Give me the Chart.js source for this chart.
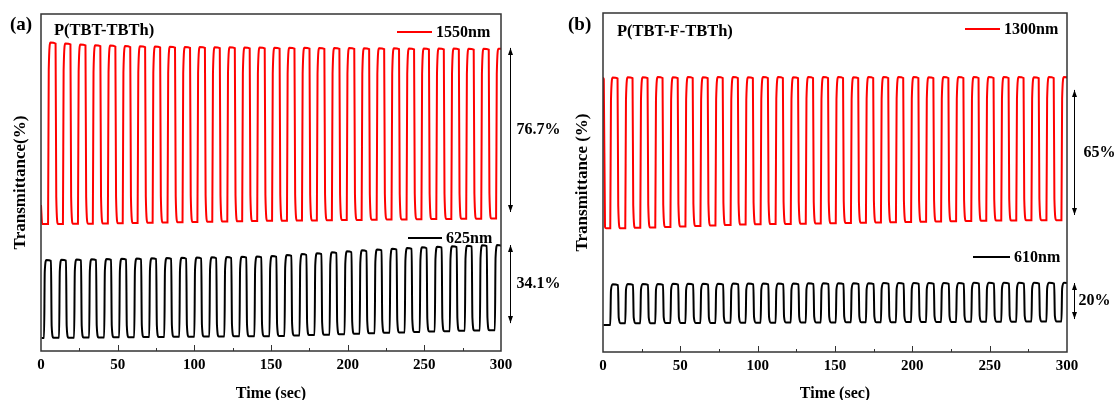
<!DOCTYPE html>
<html>
<head>
<meta charset="utf-8">
<script src="https://cdn.jsdelivr.net/npm/chart.js@4"></script>
<style>
  body { margin: 0; background: #fff; }
  #wrap { position: relative; width: 1115px; height: 400px; overflow: hidden; }
  canvas { position: absolute; top: 0; }
</style>
</head>
<body>
<div id="wrap">
  <canvas id="chartA" width="565" height="400" style="left:0"></canvas>
  <canvas id="chartB" width="555" height="400" style="left:560px"></canvas>
</div>
<script>
// ---- data (time in s, transmittance on an arbitrary %-scale) ----
const xTicks = [0, 50, 100, 150, 200, 250, 300];

// panel (a) P(TBT-TBTh), 1550 nm (red)
const redA_lead = [[0, 62.8], [0.8, 54.6]];
const redA_rise = [4.6, 14.3, 24.1, 33.8, 43.6, 53.3, 63.0, 72.8, 82.5, 92.3, 102.0, 111.7, 121.5, 131.2, 141.0, 150.7,
  160.4, 170.2, 179.9, 189.7, 199.4, 209.1, 218.9, 228.6, 238.4, 248.1, 257.8, 267.6, 277.3, 287.1, 296.8];
const redA_top = [132.7, 132.3, 131.9, 131.6, 131.4, 131.2, 131.1, 131.0, 130.9, 130.8, 130.8, 130.7, 130.7, 130.6, 130.6, 130.5,
  130.5, 130.5, 130.4, 130.4, 130.4, 130.3, 130.3, 130.3, 130.2, 130.2, 130.2, 130.2, 130.1, 130.1, 130.1];
const redA_low = [54.6, 54.7, 54.8, 54.9, 55.0, 55.1, 55.2, 55.3, 55.4, 55.5, 55.6, 55.7, 55.8, 55.9, 56.0, 56.0,
  56.1, 56.2, 56.3, 56.4, 56.4, 56.5, 56.6, 56.6, 56.7, 56.8, 56.8, 56.9, 56.9, 57.0, 57.0];

// panel (a), 625 nm (black)
const blackA_lead = [[0.4, 5.6]];
const blackA_rise = [2.0, 11.8, 21.6, 31.4, 41.2, 51.0, 60.8, 70.6, 80.4, 90.2, 100.0, 109.8, 119.6, 129.4, 139.2, 149.0,
  158.8, 168.6, 178.4, 188.2, 198.0, 207.8, 217.6, 227.4, 237.2, 247.0, 256.8, 266.6, 276.4, 286.2, 296.0];
const blackA_top = [39.2, 39.3, 39.4, 39.5, 39.6, 39.7, 39.8, 39.9, 40.0, 40.1, 40.2, 40.3, 40.4, 40.6, 40.7, 40.9,
  41.3, 41.7, 42.1, 42.5, 42.9, 43.3, 43.7, 44.0, 44.3, 44.6, 44.9, 45.1, 45.3, 45.5, 45.6];
const blackA_low = [5.7, 5.7, 5.8, 5.8, 5.9, 5.9, 6.0, 6.0, 6.1, 6.1, 6.2, 6.2, 6.3, 6.3, 6.4, 6.5,
  6.7, 6.9, 7.0, 7.2, 7.4, 7.6, 7.8, 8.0, 8.2, 8.4, 8.5, 8.7, 8.8, 8.9, 9.0];

// panel (b) P(TBT-F-TBTh), both wavelengths switched together
const riseB = [4.7, 14.4, 24.1, 33.8, 43.6, 53.3, 63.0, 72.7, 82.5, 92.2, 101.9, 111.6, 121.4, 131.1, 140.8, 150.5,
  160.3, 170.0, 179.7, 189.4, 199.2, 208.9, 218.6, 228.3, 238.1, 247.8, 257.5, 267.2, 277.0, 286.7, 296.4];
// 1300 nm (red)
const redB_lead = [[0, 117.2], [0.5, 116.8], [1.3, 53.5], [2.0, 52.9]];
const redB_top = [117.4, 117.5, 117.5, 117.6, 117.5, 117.6, 117.5, 117.6, 117.6, 117.5, 117.6, 117.6, 117.5, 117.6, 117.6, 117.6,
  117.5, 117.6, 117.6, 117.6, 117.6, 117.5, 117.6, 117.6, 117.6, 117.6, 117.6, 117.6, 117.5, 117.6, 117.6];
const redB_low = [52.9, 53.1, 53.3, 53.5, 53.7, 53.9, 54.1, 54.3, 54.5, 54.6, 54.7, 54.8, 54.9, 55.0, 55.1, 55.2,
  55.3, 55.4, 55.5, 55.6, 55.7, 55.8, 55.9, 56.0, 56.1, 56.2, 56.2, 56.3, 56.4, 56.4, 56.5];
// 610 nm (black)
const blackB_lead = [[0.3, 11.5]];
const blackB_top = [29.0, 29.1, 29.1, 29.1, 29.2, 29.2, 29.2, 29.2, 29.3, 29.3, 29.3, 29.3, 29.3, 29.4, 29.4, 29.4,
  29.4, 29.4, 29.5, 29.5, 29.5, 29.5, 29.5, 29.5, 29.6, 29.6, 29.6, 29.6, 29.6, 29.6, 29.6];
const blackB_low = [12.3, 12.3, 12.3, 12.4, 12.4, 12.4, 12.4, 12.5, 12.5, 12.5, 12.5, 12.6, 12.6, 12.6, 12.6, 12.7,
  12.7, 12.7, 12.7, 12.8, 12.8, 12.8, 12.8, 12.9, 12.9, 12.9, 12.9, 13.0, 13.0, 13.0, 13.0];

// contrast arrows [low, high] and their labels
const contrastA = [{ span: [59.8, 130.4], label: '76.7%' }, { span: [12.0, 45.6], label: '34.1%' }];
const contrastB = [{ span: [58.6, 112.1], label: '65%' }, { span: [14.1, 29.5], label: '20%' }];

// builds the switching trace: fast rise, rounded plateau, fast drop, rounded plateau
function trace(lead, rise, top, low, on) {
    const pts = lead.map(p => ({ x: p[0], y: p[1] }));
    let prev = lead[lead.length - 1][1];
    rise.forEach((r, i) => {
        const hi = top[i], lo = low[i];
        pts.push({ x: r, y: prev });
        pts.push({ x: r + 0.45, y: prev + 0.85 * (hi - prev) });
        pts.push({ x: r + 1.6, y: hi });
        pts.push({ x: r + on, y: hi - 0.4 });
        pts.push({ x: r + on + 0.45, y: lo + 0.15 * (hi - lo) });
        pts.push({ x: r + on + 1.6, y: lo });
        prev = lo;
    });
    return pts;
}

const SERIF = '"Liberation Serif", "Times New Roman", serif';

function panelPlugin(p) {
    return {
        id: 'panel' + p.tag,
        afterDraw(chart) {
            const ctx = chart.ctx;
            const a = chart.chartArea;
            const xs = chart.scales.x, ys = chart.scales.y;
            ctx.save();
            // frame
            ctx.strokeStyle = '#333';
            ctx.lineWidth = 1.5;
            ctx.strokeRect(a.left, a.top, a.right - a.left, a.bottom - a.top);
            // inward ticks
            ctx.lineWidth = 1;
            for (let t = 25; t < 300; t += 25) {
                const px = Math.round(xs.getPixelForValue(t)) + 0.5;
                const len = t % 50 === 0 ? 6 : 3;
                ctx.beginPath();
                ctx.moveTo(px, a.bottom);
                ctx.lineTo(px, a.bottom - len);
                ctx.stroke();
            }
            ctx.fillStyle = '#000';
            ctx.textBaseline = 'middle';
            ctx.textAlign = 'left';
            // panel letter and sample name
            ctx.font = 'bold 19px ' + SERIF;
            ctx.fillText(p.tag, p.tagX, 25);
            ctx.font = 'bold 16.5px ' + SERIF;
            ctx.fillText(p.name, a.left + p.nameDx, p.nameY);
            // legends
            ctx.font = 'bold 16px ' + SERIF;
            p.legend.forEach(l => {
                ctx.strokeStyle = l.color;
                ctx.lineWidth = 2;
                ctx.beginPath();
                ctx.moveTo(l.x0, l.y);
                ctx.lineTo(l.x1, l.y);
                ctx.stroke();
                ctx.fillText(l.text, l.x1 + 4, l.y + 1);
            });
            // contrast arrows
            ctx.strokeStyle = '#000';
            ctx.lineWidth = 1;
            const ax = a.right + p.arrowDx + 0.5;
            p.contrast.forEach((c, i) => {
                const y0 = ys.getPixelForValue(c.span[1]);
                const y1 = ys.getPixelForValue(c.span[0]);
                ctx.beginPath();
                ctx.moveTo(ax, y0);
                ctx.lineTo(ax, y1);
                ctx.stroke();
                ctx.beginPath();
                ctx.moveTo(ax, y0); ctx.lineTo(ax - 2.5, y0 + 7); ctx.lineTo(ax + 2.5, y0 + 7); ctx.closePath();
                ctx.moveTo(ax, y1); ctx.lineTo(ax - 2.5, y1 - 7); ctx.lineTo(ax + 2.5, y1 - 7); ctx.closePath();
                ctx.fill();
                ctx.font = 'bold 16px ' + SERIF;
                ctx.fillText(c.label, ax + p.labelDx[i], (y0 + y1) / 2);
            });
            ctx.restore();
        }
    };
}

function makeChart(id, sets, yTitle, frame, plugin) {
    return new Chart(document.getElementById(id), {
        type: 'line',
        data: {
            datasets: sets.map(s => ({
                data: s.data,
                borderColor: s.color,
                borderWidth: 2,
                pointRadius: 0,
                cubicInterpolationMode: 'monotone',
                fill: false
            }))
        },
        options: {
            responsive: false,
            animation: false,
            events: [],
            layout: { padding: { left: 0, top: frame.top, right: frame.right, bottom: 0 } },
            plugins: { legend: { display: false }, tooltip: { enabled: false } },
            scales: {
                x: {
                    type: 'linear',
                    min: 0, max: 300,
                    afterBuildTicks: s => { s.ticks = xTicks.map(v => ({ value: v })); },
                    grid: { display: false, drawTicks: false },
                    border: { display: false },
                    ticks: { color: '#000', padding: 5, maxRotation: 0, font: { family: SERIF, size: 15, weight: 'bold' } },
                    title: {
                        display: true, text: 'Time (sec)', color: '#000',
                        padding: { top: 0, bottom: -2 },
                        font: { family: SERIF, size: 16, weight: 'bold', lineHeight: 1 }
                    },
                    afterFit: s => { s.height = frame.xh; s.paddingLeft = 0; s.paddingRight = 0; }
                },
                y: {
                    min: 0, max: 145,
                    grid: { display: false, drawTicks: false },
                    border: { display: false },
                    ticks: { display: false },
                    title: {
                        display: true, text: yTitle, color: '#000',
                        padding: { top: frame.yPad, bottom: 0 },
                        font: { family: SERIF, size: 17, weight: 'bold', lineHeight: 1 }
                    },
                    afterFit: s => { s.width = frame.yw; s.paddingTop = 0; s.paddingBottom = 0; }
                }
            }
        },
        plugins: [plugin]
    });
}

makeChart('chartA', [
    { data: trace(redA_lead, redA_rise, redA_top, redA_low, 4.9), color: '#ff0000' },
    { data: trace(blackA_lead, blackA_rise, blackA_top, blackA_low, 4.5), color: '#000000' }
], 'Transmittance(%)', { top: 14, right: 64, xh: 49, yw: 41, yPad: 12 }, panelPlugin({
    tag: '(a)', tagX: 10, name: 'P(TBT-TBTh)', nameDx: 13, nameY: 31,
    legend: [
        { color: '#ff0000', x0: 397, x1: 432, y: 32, text: '1550nm' },
        { color: '#000000', x0: 408, x1: 442, y: 238, text: '625nm' }
    ],
    contrast: contrastA, arrowDx: 9, labelDx: [6, 6]
}));

makeChart('chartB', [
    { data: trace(redB_lead, riseB, redB_top, redB_low, 4.7), color: '#ff0000' },
    { data: trace(blackB_lead, riseB, blackB_top, blackB_low, 5.0), color: '#000000' }
], 'Transmittance (%)', { top: 13, right: 48, xh: 48, yw: 43, yPad: 14 }, panelPlugin({
    tag: '(b)', tagX: 8, name: 'P(TBT-F-TBTh)', nameDx: 14, nameY: 32,
    legend: [
        { color: '#ff0000', x0: 405, x1: 440, y: 29, text: '1300nm' },
        { color: '#000000', x0: 413, x1: 450, y: 257, text: '610nm' }
    ],
    contrast: contrastB, arrowDx: 7, labelDx: [9, 4]
}));
</script>
</body>
</html>
